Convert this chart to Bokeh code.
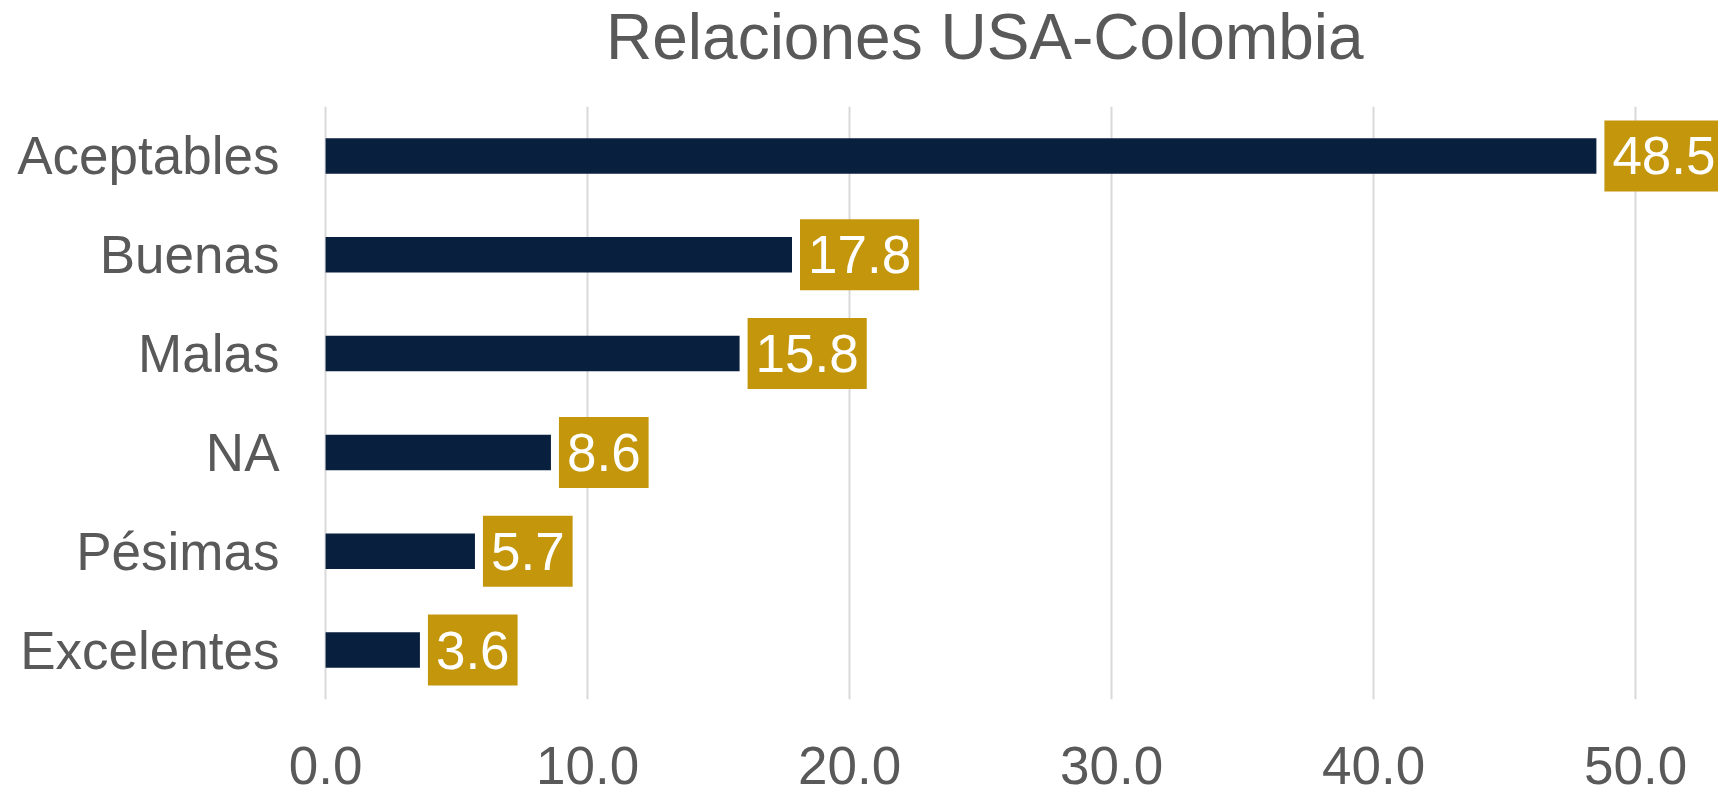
from bokeh.plotting import figure
from bokeh.models import ColumnDataSource, Range1d, FactorRange, NumeralTickFormatter, FixedTicker, Div
from bokeh.layouts import column
from bokeh.core.properties import value
from bokeh.embed import file_html
from bokeh.resources import INLINE

categories = ["Aceptables", "Buenas", "Malas", "NA", "Pésimas", "Excelentes"]
values = [48.5, 17.8, 15.8, 8.6, 5.7, 3.6]
tick_values = [0, 10, 20, 30, 40, 50]
title_text = "Relaciones USA-Colombia"

FONT = "Liberation Sans"
GRAY = "#595959"
TITLE_H = 75

src = ColumnDataSource(dict(cat=categories, val=values,
                            lab=[f"{v:.1f}" for v in values]))

p = figure(width=1718, height=787 - TITLE_H, output_backend="svg", toolbar_location=None,
           y_range=FactorRange(*categories[::-1]),
           x_range=Range1d(-0.08, 53.16),
           min_border_left=323, min_border_right=0, min_border_bottom=88,
           min_border_top=106 - TITLE_H)

p.hbar(y="cat", right="val", left=0, height=0.36, source=src,
       fill_color="#081F3D", line_color=None)

p.text(x="val", y="cat", text="lab", source=src, x_offset=8,
       text_align="left", text_baseline="middle",
       text_font=value(FONT), text_font_size="53px", text_color="white",
       background_fill_color="#C4960C", padding=(8, 8, 17, 17))

title = Div(text=f'<div style="margin-left:606px;font-family:\'{FONT}\';font-size:64px;'
                 f'line-height:74px;color:{GRAY};white-space:nowrap;">{title_text}</div>',
            width=1718, height=TITLE_H, margin=0)

p.xaxis.ticker = FixedTicker(ticks=tick_values)
p.xaxis.formatter = NumeralTickFormatter(format="0.0")
for ax in (p.xaxis, p.yaxis):
    ax.axis_line_color = None
    ax.major_tick_line_color = None
    ax.minor_tick_line_color = None
    ax.major_label_text_font = FONT
    ax.major_label_text_font_size = "53px"
    ax.major_label_text_color = GRAY
p.xaxis.major_label_standoff = 41
p.yaxis.major_label_standoff = 38

p.xgrid.grid_line_color = "#D9D9D9"
p.xgrid.grid_line_width = 2
p.ygrid.grid_line_color = None
p.outline_line_color = None

layout = column(title, p, spacing=0)
open("out.html", "w").write(file_html(layout, INLINE))
